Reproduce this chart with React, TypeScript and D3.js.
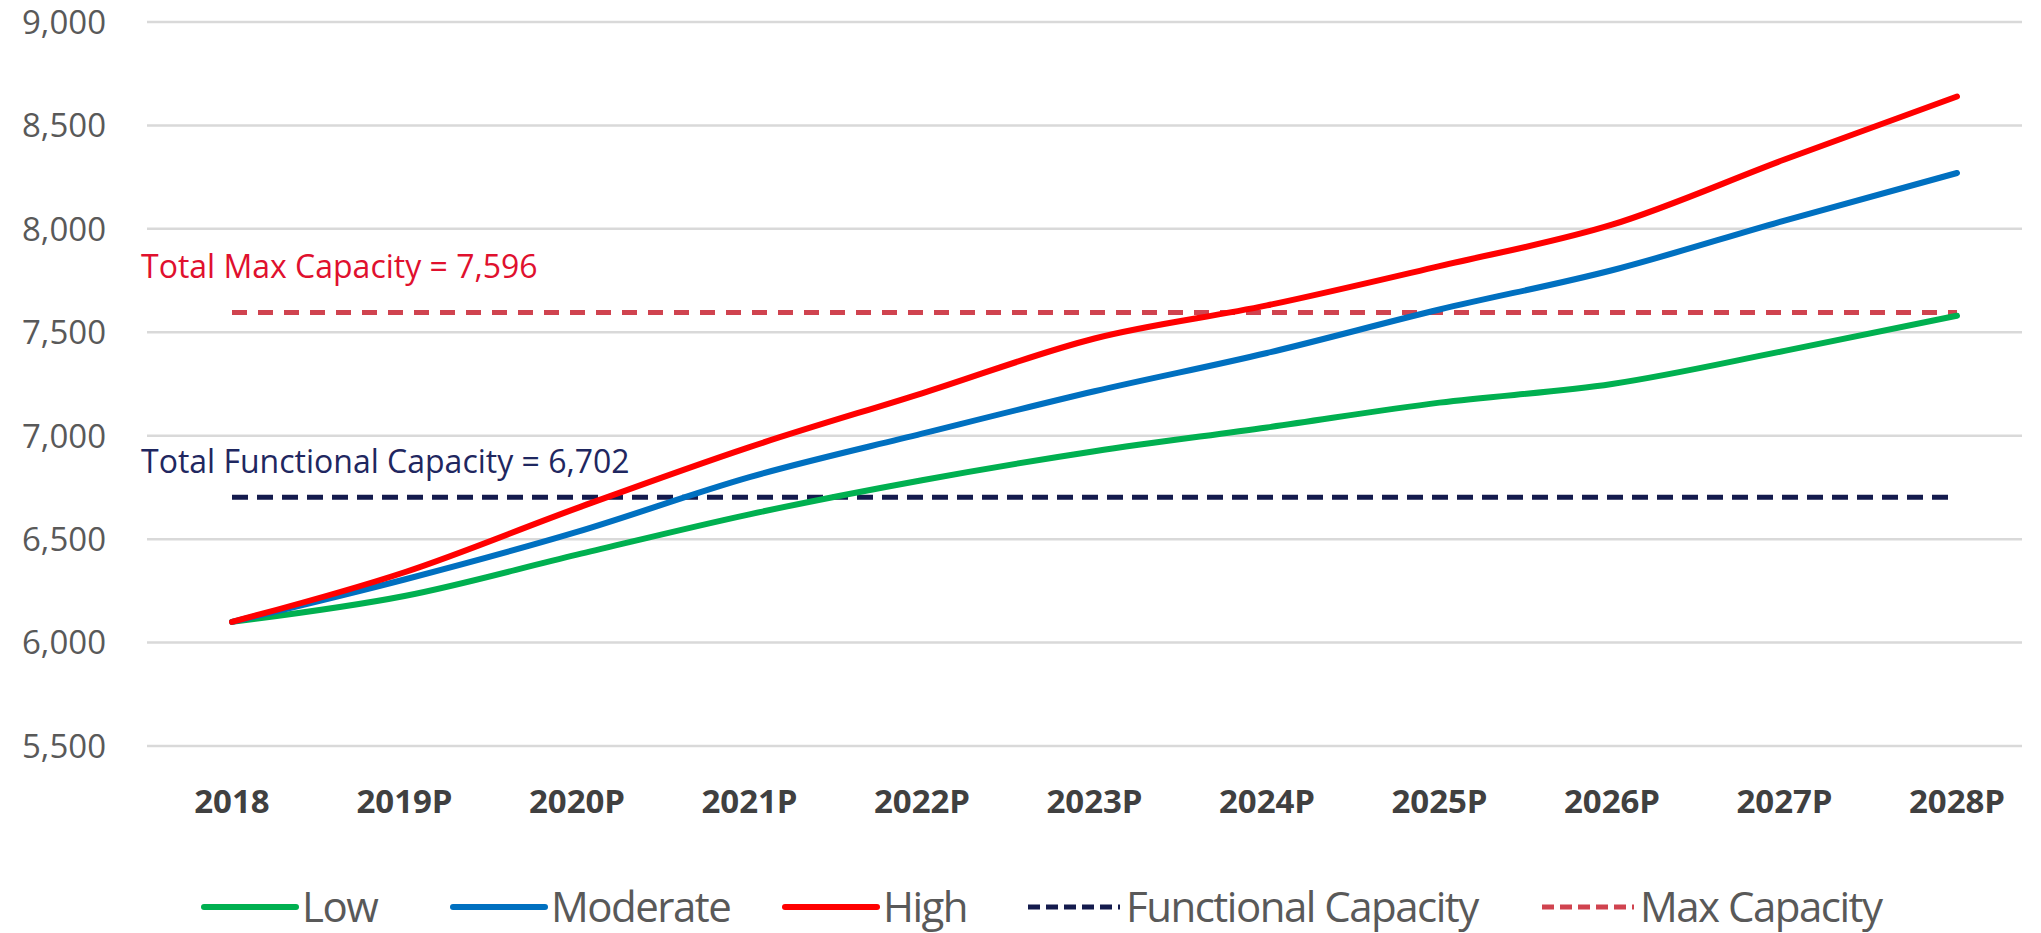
import React, { useEffect, useRef } from 'react';
import * as d3 from 'd3';

const years = ['2018', '2019P', '2020P', '2021P', '2022P', '2023P', '2024P', '2025P', '2026P', '2027P', '2028P'];
const lowValues = [6100, 6225, 6425, 6620, 6785, 6925, 7040, 7160, 7250, 7410, 7580];
const moderateValues = [6100, 6305, 6535, 6800, 7010, 7215, 7400, 7610, 7800, 8040, 8270];
const highValues = [6100, 6340, 6650, 6945, 7205, 7470, 7630, 7820, 8020, 8335, 8640];
const functionalCapacity = 6702;
const maxCapacity = 7596;
const yTicks = [5500, 6000, 6500, 7000, 7500, 8000, 8500, 9000];

const legendItems = [
  { label: 'Low', color: '#00B050', dash: null },
  { label: 'Moderate', color: '#0070C0', dash: null },
  { label: 'High', color: '#FF0000', dash: null },
  { label: 'Functional Capacity', color: '#141B4D', dash: '12,6' },
  { label: 'Max Capacity', color: '#D0434F', dash: '12,6' },
];

const App = () => {
  const svgRef = useRef<SVGSVGElement>(null);

  useEffect(() => {
    if (!svgRef.current) return;
    const width = 2041;
    const height = 933;
    const svg = d3.select(svgRef.current);
    svg.selectAll('*').remove();
    svg.attr('width', width).attr('height', height);

    svg.append('rect').attr('width', width).attr('height', height).attr('fill', 'white');

    const x = d3.scalePoint().domain(years).range([232, 1957]);
    const y = d3.scaleLinear().domain([5500, 9000]).range([746, 22]);

    // gridlines
    svg.append('g')
      .selectAll('line')
      .data(yTicks)
      .enter()
      .append('line')
      .attr('x1', 147)
      .attr('x2', 2022)
      .attr('y1', d => y(d))
      .attr('y2', d => y(d))
      .attr('stroke', '#D9D9D9')
      .attr('stroke-width', 2.5);

    // y labels
    svg.append('g')
      .selectAll('text')
      .data(yTicks)
      .enter()
      .append('text')
      .attr('x', 106)
      .attr('y', d => y(d))
      .attr('dy', '0.36em')
      .attr('text-anchor', 'end')
      .attr('fill', '#595959')
      .style('font-family', '"Open Sans", sans-serif')
      .style('font-size', '33px')
      .text(d => d3.format(',')(d));

    // x labels
    svg.append('g')
      .selectAll('text')
      .data(years)
      .enter()
      .append('text')
      .attr('x', d => x(d)!)
      .attr('y', 813)
      .attr('text-anchor', 'middle')
      .attr('fill', '#404040')
      .style('font-family', '"Open Sans", sans-serif')
      .style('font-weight', 'bold')
      .style('font-size', '33px')
      .text(d => d);

    // capacity lines
    const flat = (v: number) => years.map(yr => ({ yr, v }));
    const flatLine = d3.line<{ yr: string; v: number }>().x(d => x(d.yr)!).y(d => y(d.v));

    svg.append('path')
      .attr('d', flatLine(flat(maxCapacity)))
      .attr('fill', 'none')
      .attr('stroke', '#D0434F')
      .attr('stroke-width', 5)
      .attr('stroke-dasharray', '15,11');

    svg.append('path')
      .attr('d', flatLine(flat(functionalCapacity)))
      .attr('fill', 'none')
      .attr('stroke', '#141B4D')
      .attr('stroke-width', 5)
      .attr('stroke-dasharray', '16,9');

    // scenario lines
    const line = d3.line<number>()
      .x((d, i) => x(years[i])!)
      .y(d => y(d))
      .curve(d3.curveMonotoneX);

    const series = [
      { values: lowValues, color: '#00B050' },
      { values: moderateValues, color: '#0070C0' },
      { values: highValues, color: '#FF0000' },
    ];
    series.forEach(s => {
      svg.append('path')
        .attr('d', line(s.values))
        .attr('fill', 'none')
        .attr('stroke', s.color)
        .attr('stroke-width', 6)
        .attr('stroke-linecap', 'round');
    });

    // annotations
    svg.append('text')
      .attr('x', 141)
      .attr('y', y(maxCapacity) - 34)
      .attr('fill', '#E0102E')
      .style('font-family', '"Open Sans", sans-serif')
      .style('font-size', '32px')
      .text('Total Max Capacity = 7,596');

    svg.append('text')
      .attr('x', 141)
      .attr('y', y(functionalCapacity) - 24)
      .attr('fill', '#1F2760')
      .style('font-family', '"Open Sans", sans-serif')
      .style('font-size', '32px')
      .text('Total Functional Capacity = 6,702');

    // legend
    const legendX = [204, 453, 785, 1028, 1542];
    const legend = svg.selectAll('.legend')
      .data(legendItems)
      .enter()
      .append('g')
      .attr('class', 'legend')
      .attr('transform', (d, i) => `translate(${legendX[i]}, 907)`);

    legend.append('line')
      .attr('x1', 0)
      .attr('x2', 92)
      .attr('stroke', d => d.color)
      .attr('stroke-width', d => (d.dash ? 5 : 6))
      .attr('stroke-dasharray', d => d.dash ?? null)
      .attr('stroke-linecap', d => (d.dash ? 'butt' : 'round'));

    legend.append('text')
      .attr('x', 98)
      .attr('dy', '0.36em')
      .attr('fill', '#595959')
      .style('font-family', '"Open Sans", sans-serif')
      .style('font-size', '42px')
      .style('letter-spacing', '-1.5px')
      .text(d => d.label);
  }, []);

  return <svg ref={svgRef} style={{ position: 'absolute', left: 0, top: 0 }}></svg>;
};

export default App;
